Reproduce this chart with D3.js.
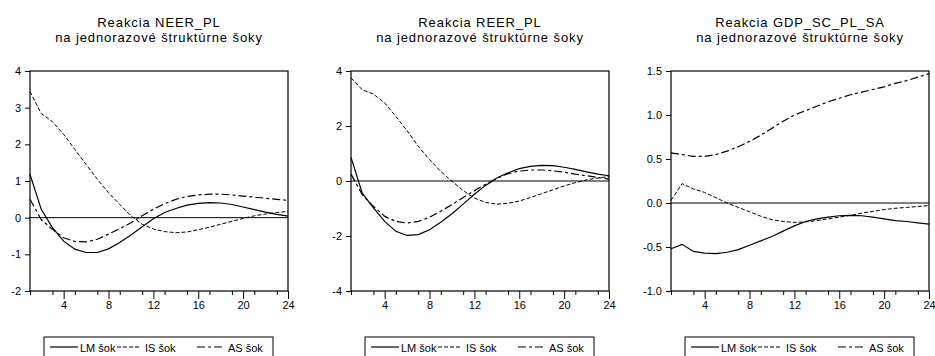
<!DOCTYPE html>
<html>
<head>
<meta charset="utf-8">
<script src="https://cdn.jsdelivr.net/npm/d3@7"></script>
<style>
  body { margin: 0; background: #fff; }
  svg { display: block; }
  text { font-family: "Liberation Sans", Arial, sans-serif; fill: #000; }
</style>
</head>
<body>
<div id="chart"></div>
<script>
// horizon (periods)
var periods = d3.range(1, 25);

var titles = ["Reakcia NEER_PL", "Reakcia REER_PL", "Reakcia GDP_SC_PL_SA"];
var subtitle = "na jednorazové štruktúrne šoky";
var seriesNames = ["LM šok", "IS šok", "AS šok"];

// NEER_PL
var neerLM = [1.18, 0.23, -0.27, -0.64, -0.86, -0.95, -0.95, -0.85, -0.68, -0.47, -0.25, -0.03, 0.14, 0.25, 0.34, 0.39, 0.41, 0.40, 0.36, 0.29, 0.22, 0.15, 0.09, 0.04];
var neerIS = [3.44, 2.84, 2.62, 2.27, 1.86, 1.45, 1.05, 0.68, 0.36, 0.05, -0.18, -0.31, -0.38, -0.41, -0.39, -0.33, -0.26, -0.18, -0.10, -0.02, 0.05, 0.10, 0.14, 0.17];
var neerAS = [0.50, -0.05, -0.32, -0.55, -0.65, -0.66, -0.59, -0.45, -0.30, -0.14, 0.05, 0.23, 0.38, 0.50, 0.58, 0.62, 0.64, 0.64, 0.62, 0.59, 0.56, 0.53, 0.50, 0.47];

// REER_PL
var reerLM = [0.86, -0.44, -0.98, -1.47, -1.83, -1.98, -1.95, -1.77, -1.50, -1.19, -0.84, -0.48, -0.16, 0.11, 0.30, 0.45, 0.53, 0.57, 0.56, 0.50, 0.42, 0.33, 0.25, 0.19];
var reerIS = [3.75, 3.32, 3.16, 2.84, 2.35, 1.83, 1.26, 0.78, 0.35, -0.01, -0.35, -0.62, -0.78, -0.84, -0.81, -0.73, -0.60, -0.46, -0.32, -0.18, -0.06, 0.04, 0.11, 0.16];
var reerAS = [0.25, -0.50, -0.92, -1.28, -1.47, -1.53, -1.47, -1.32, -1.10, -0.86, -0.60, -0.35, -0.12, 0.10, 0.27, 0.36, 0.40, 0.40, 0.37, 0.32, 0.25, 0.19, 0.13, 0.07];

// GDP_SC_PL_SA
var gdpLM = [-0.52, -0.47, -0.55, -0.57, -0.575, -0.56, -0.53, -0.48, -0.43, -0.38, -0.32, -0.26, -0.21, -0.18, -0.16, -0.145, -0.14, -0.145, -0.16, -0.18, -0.20, -0.21, -0.225, -0.24];
var gdpIS = [0.03, 0.22, 0.16, 0.12, 0.06, 0.00, -0.05, -0.10, -0.15, -0.19, -0.21, -0.22, -0.215, -0.20, -0.18, -0.16, -0.14, -0.115, -0.095, -0.075, -0.06, -0.05, -0.04, -0.03];
var gdpAS = [0.57, 0.55, 0.53, 0.53, 0.55, 0.59, 0.64, 0.70, 0.77, 0.85, 0.93, 1.00, 1.05, 1.10, 1.15, 1.19, 1.23, 1.26, 1.29, 1.32, 1.36, 1.39, 1.43, 1.47];

// axis ticks
var xMajorTicks = [4, 8, 12, 16, 20, 24];
var xMinorTicks = [1, 3, 5, 7, 9, 11, 13, 15, 17, 19, 21, 23];
var neerTicks = [-2, -1, 0, 1, 2, 3, 4];
var reerTicks = [-4, -2, 0, 2, 4];
var gdpTicks = [-1.0, -0.5, 0.0, 0.5, 1.0, 1.5];

// plain hyphen for negatives, like the original
var loc = d3.formatLocale({ decimal: ".", thousands: ",", grouping: [3], currency: ["", ""], minus: "-" });

var panels = [
  { title: titles[0], lm: neerLM, is: neerIS, as: neerAS, domain: [-2, 4], ticks: neerTicks, fmt: loc.format("d"), left: 30 },
  { title: titles[1], lm: reerLM, is: reerIS, as: reerAS, domain: [-4, 4], ticks: reerTicks, fmt: loc.format("d"), left: 351 },
  { title: titles[2], lm: gdpLM, is: gdpIS, as: gdpAS, domain: [-1, 1.5], ticks: gdpTicks, fmt: loc.format(".1f"), left: 671 }
];

var dashes = ["none", "4,2", "8,3,3,3"];
var widths = [1.2, 1, 1.2];

var svgWidth = 935, svgHeight = 356;
var plotW = 258, plotTop = 71, plotH = 220;

var svg = d3.select("#chart").append("svg")
  .attr("width", svgWidth)
  .attr("height", svgHeight);

panels.forEach(function(p) {
  var g = svg.append("g").attr("transform", `translate(${p.left}, ${plotTop})`);

  var x = d3.scaleLinear().domain([1, 24]).range([0, plotW]);
  var y = d3.scaleLinear().domain(p.domain).range([plotH, 0]);

  // titles
  var cx = p.left + plotW / 2;
  svg.append("text").attr("x", cx).attr("y", 27)
    .attr("text-anchor", "middle").attr("font-size", "13px")
    .attr("letter-spacing", "0.9px")
    .text(p.title);
  svg.append("text").attr("x", cx).attr("y", 42)
    .attr("text-anchor", "middle").attr("font-size", "13px")
    .attr("letter-spacing", "0.9px")
    .text(subtitle);

  // y axis
  var yAxis = d3.axisLeft(y).tickValues(p.ticks).tickFormat(p.fmt).tickSize(5).tickPadding(4);
  var ya = g.append("g").call(yAxis);
  ya.select(".domain").remove();
  ya.selectAll("text").attr("font-size", "11px");

  // x axis, major + minor
  var xMinor = d3.axisBottom(x).tickValues(xMinorTicks).tickSize(4).tickFormat("");
  var xm = g.append("g").attr("transform", `translate(0, ${plotH})`).call(xMinor);
  xm.select(".domain").remove();

  var xAxis = d3.axisBottom(x).tickValues(xMajorTicks).tickSize(8).tickPadding(2).tickFormat(loc.format("d"));
  var xa = g.append("g").attr("transform", `translate(0, ${plotH})`).call(xAxis);
  xa.select(".domain").remove();
  xa.selectAll("text").attr("font-size", "11px");

  // zero line
  g.append("line")
    .attr("x1", 0).attr("x2", plotW)
    .attr("y1", y(0)).attr("y2", y(0))
    .attr("stroke", "#000").attr("stroke-width", 1);

  // lines
  var line = d3.line()
    .x(function(d, i) { return x(periods[i]); })
    .y(function(d) { return y(d); });

  [p.lm, p.is, p.as].forEach(function(s, k) {
    g.append("path")
      .attr("d", line(s))
      .attr("fill", "none")
      .attr("stroke", "#000")
      .attr("stroke-width", widths[k])
      .attr("stroke-dasharray", dashes[k]);
  });

  // frame
  g.append("rect")
    .attr("x", 0).attr("y", 0)
    .attr("width", plotW).attr("height", plotH)
    .attr("fill", "none").attr("stroke", "#000").attr("stroke-width", 1.2);

  // legend
  var lx = cx - 115;
  var leg = svg.append("g").attr("transform", `translate(${lx}, 337)`);
  leg.append("rect").attr("x", 0).attr("y", 0).attr("width", 229).attr("height", 24)
    .attr("fill", "none").attr("stroke", "#000").attr("stroke-width", 1);
  var sampleX = [6, 73, 153];
  var sampleLen = [28, 22, 28];
  var textX = [36, 101, 184];
  seriesNames.forEach(function(nm, k) {
    leg.append("line")
      .attr("x1", sampleX[k]).attr("x2", sampleX[k] + sampleLen[k])
      .attr("y1", 10).attr("y2", 10)
      .attr("stroke", "#000").attr("stroke-width", widths[k])
      .attr("stroke-dasharray", dashes[k]);
    leg.append("text")
      .attr("x", textX[k]).attr("y", 15)
      .attr("font-size", "11px")
      .text(nm);
  });
});
</script>
</body>
</html>
